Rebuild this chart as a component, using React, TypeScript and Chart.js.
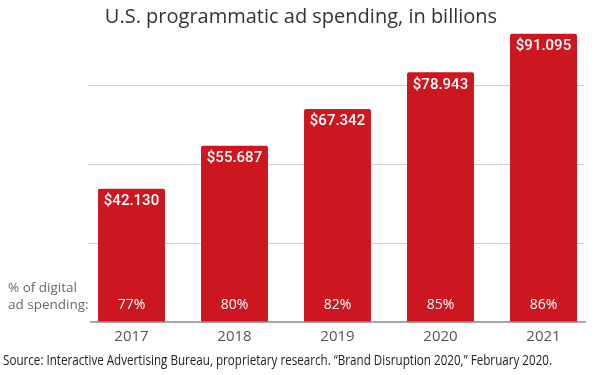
import React, { useEffect, useRef } from "react";
import { Chart, registerables } from "chart.js";

Chart.register(...registerables);

const years = ["2017", "2018", "2019", "2020", "2021"];
const spending = [42.13, 55.687, 67.342, 78.943, 91.095];
const valueLabels = ["$42.130", "$55.687", "$67.342", "$78.943", "$91.095"];
const shareLabels = ["77%", "80%", "82%", "85%", "86%"];
const gridValues = [25, 50, 75];
const titleText = "U.S. programmatic ad spending, in billions";
const sourceText =
  "Source: Interactive Advertising Bureau, proprietary research. \u201CBrand Disruption 2020,\u201D February 2020.";
const sideLabel = ["% of digital", "ad spending:"];

const RED = "#cc1720";

const overlay = {
  id: "overlay",
  beforeDatasetsDraw(chart: any) {
    const ctx = chart.ctx;
    const y = chart.scales.y;
    ctx.save();
    ctx.strokeStyle = "#d0d0d0";
    ctx.lineWidth = 1;
    for (const v of gridValues) {
      const py = Math.round(y.getPixelForValue(v)) + 0.5;
      ctx.beginPath();
      ctx.moveTo(88, py);
      ctx.lineTo(584, py);
      ctx.stroke();
    }
    ctx.restore();
  },
  afterDatasetsDraw(chart: any) {
    const ctx = chart.ctx;
    const y = chart.scales.y;
    const meta = chart.getDatasetMeta(0);
    const base = y.getPixelForValue(0);
    ctx.save();
    // axis line
    ctx.strokeStyle = "#8a8a8a";
    ctx.lineWidth = 1.5;
    ctx.beginPath();
    ctx.moveTo(90, base);
    ctx.lineTo(586, base);
    ctx.stroke();
    // value labels
    ctx.fillStyle = "#ffffff";
    ctx.textAlign = "center";
    ctx.textBaseline = "middle";
    meta.data.forEach((bar: any, i: number) => {
      ctx.font = "500 15px Roboto";
      ctx.fillText(valueLabels[i], bar.x, bar.y + 12.5);
      ctx.font = "14px 'Open Sans'";
      ctx.fillText(shareLabels[i], bar.x, base - 17);
    });
    // side label
    ctx.fillStyle = "#6a6a6a";
    ctx.textAlign = "left";
    ctx.font = "13.5px 'Open Sans'";
    ctx.fillText(sideLabel[0], 8, base - 34);
    ctx.fillText(sideLabel[1], 8, base - 17);
    // title
    ctx.fillStyle = "#333333";
    ctx.textAlign = "center";
    ctx.font = "20px 'Open Sans'";
    ctx.fillText(titleText, 301, 17);
    // source
    ctx.fillStyle = "#222222";
    ctx.textAlign = "left";
    ctx.font = "14px 'Open Sans'";
    ctx.fillText(sourceText, 3, 361, 549);
    ctx.restore();
  },
};

export default function App() {
  const ref = useRef<HTMLCanvasElement>(null);
  useEffect(() => {
    if (!ref.current) return;
    const chart = new Chart(ref.current, {
      type: "bar",
      data: {
        labels: years,
        datasets: [
          {
            data: spending,
            backgroundColor: RED,
            barPercentage: 0.65,
            categoryPercentage: 1,
            borderRadius: { topLeft: 2, topRight: 2, bottomLeft: 0, bottomRight: 0 },
            borderSkipped: "bottom",
          },
        ],
      },
      options: {
        animation: false,
        responsive: false,
        layout: { padding: { left: 80, right: 5, top: 31, bottom: 13 } },
        plugins: {
          legend: { display: false },
          tooltip: { enabled: false },
          title: { display: false },
        },
        scales: {
          x: {
            grid: { display: false, drawTicks: false },
            border: { display: false },
            afterFit: (scale: any) => {
              scale.height = 40;
            },
            ticks: {
              color: "#555555",
              font: { family: "'Open Sans'", size: 15, lineHeight: 1 },
              padding: 7,
            },
          },
          y: {
            display: false,
            min: 0,
            max: 92,
          },
        },
      },
      plugins: [overlay],
    });
    return () => chart.destroy();
  }, []);
  return (
    <div style={{ position: "fixed", left: 0, top: 0, width: 600, height: 375, background: "#fff" }}>
      <canvas ref={ref} width={600} height={375} />
    </div>
  );
}
